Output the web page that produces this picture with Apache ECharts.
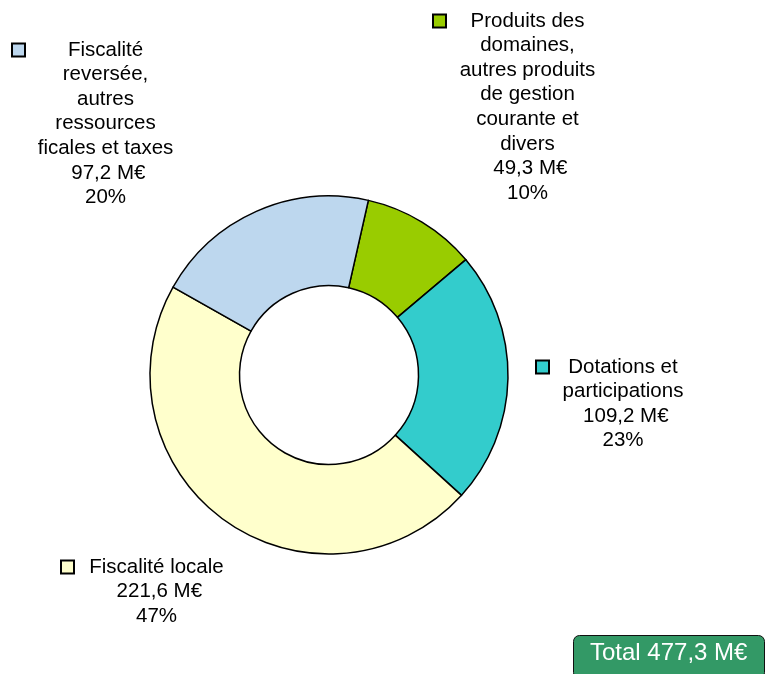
<!DOCTYPE html>
<html>
<head>
<meta charset="utf-8">
<script src="https://cdn.jsdelivr.net/npm/echarts@6/dist/echarts.min.js"></script>
<style>html, body { margin: 0; padding: 0; background: #fff; }</style>
</head>
<body>
<div id="main" style="width: 766px; height: 674px"></div>
<script>
// catégories de recettes (retours à la ligne comme dans l'original)
var categories = [
  'Produits des\ndomaines,\nautres produits\nde gestion\ncourante et\ndivers',
  'Dotations et\nparticipations',
  'Fiscalité locale',
  'Fiscalité\nreversée,\nautres\nressources\nficales et taxes'
]
// montants en M€
var values = [49.3, 109.2, 221.6, 97.2]
var colors = ['#99cc00', '#33cccc', '#ffffcc', '#bdd7ee']

// position des étiquettes : centre x, haut y, largeur du bloc
var labelPos = [[527.5, 8.7, 187], [623, 354.7, 172], [156.5, 554.7, 189], [105.5, 37.7, 185]]

var FONT = '"Liberation Sans", Arial, sans-serif'
var fmt = function(v) { return v.toFixed(1).replace('.', ',') }
var total = values.reduce(function(a, b) { return a + b }, 0)

var rich = {
  t: { fontSize: 20.5, fontFamily: FONT, color: '#000', lineHeight: 24.6, align: 'center' },
  sp: { width: 11, height: 11, align: 'right' }
}
colors.forEach(function(c, i) {
  rich['mk' + i] = { width: 11, height: 11, backgroundColor: c, borderColor: '#000', borderWidth: 2, align: 'left' }
})

var myChart = echarts.init(document.getElementById('main'))
var option = {
  animation: false,
  title: {
    text: 'Total ' + fmt(total) + ' M€',
    left: 573,
    top: 635,
    backgroundColor: '#339966',
    borderColor: '#111',
    borderWidth: 1,
    borderRadius: 6,
    padding: [6, 17, 14, 17],
    textStyle: { color: '#fff', fontSize: 24, fontWeight: 'normal', fontFamily: FONT }
  },
  series: [
    {
      type: 'pie',
      center: [329, 375],
      radius: [89.5, 179],
      startAngle: 77.3,
      clockwise: true,
      percentPrecision: 0,
      avoidLabelOverlap: false,
      silent: true,
      itemStyle: { borderColor: '#000', borderWidth: 1.5 },
      label: {
        show: true,
        position: 'outside',
        overflow: 'none',
        fontSize: 20.5,
        fontFamily: FONT,
        color: '#000',
        lineHeight: 24.6,
        align: 'center',
        rich: rich,
        formatter: function(p) {
          var lines = p.name.split('\n')
          var out = ['{mk' + p.dataIndex + '|}{t|' + lines[0] + '}{sp|}']
          out = out.concat(lines.slice(1))
          out.push(' ' + fmt(p.value) + ' M€')
          out.push(p.percent + '%')
          return out.join('\n')
        }
      },
      labelLine: { show: false },
      labelLayout: function(p) {
        var pos = labelPos[p.dataIndex]
        return { x: pos[0], y: pos[1], align: 'center', verticalAlign: 'top' }
      },
      data: categories.map(function(name, i) {
        return {
          name: name,
          value: values[i],
          itemStyle: { color: colors[i] },
          label: { width: labelPos[i][2] }
        }
      })
    }
  ]
}
myChart.setOption(option)
</script>
</body>
</html>
